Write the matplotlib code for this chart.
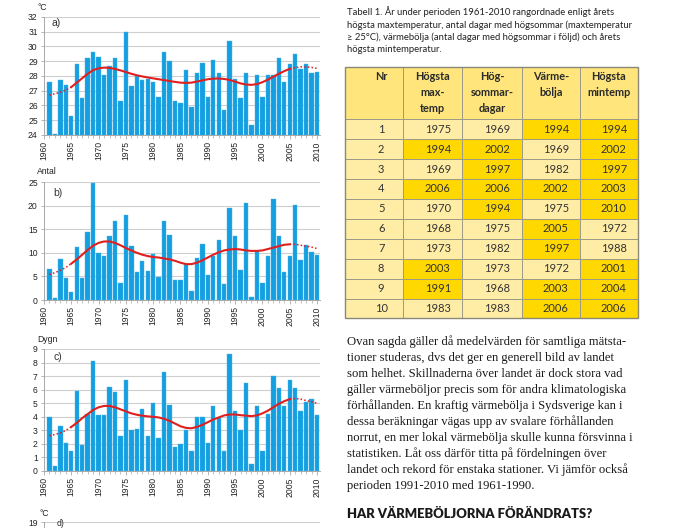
import matplotlib
matplotlib.use('Agg')
import matplotlib.pyplot as plt
from matplotlib.patches import Rectangle
import numpy as np

# ---------------- data ----------------
years = list(range(1961, 2011))

max_temp = [27.6, 24.05, 27.7, 27.4, 25.3, 28.8, 26.5, 29.2, 29.6, 29.3,
            28.1, 28.7, 29.2, 26.3, 31.0, 27.3, 28.0, 27.7, 27.8, 27.6,
            26.6, 29.6, 29.0, 26.3, 26.2, 28.4, 25.9, 28.2, 28.9, 26.6,
            29.1, 28.2, 25.7, 30.4, 27.8, 26.5, 28.2, 24.7, 28.1, 26.6,
            28.1, 28.1, 29.2, 27.6, 28.8, 29.5, 28.5, 28.8, 28.2, 28.3]

summer_days = [6.6, 0.5, 8.7, 4.7, 1.8, 11.3, 4.7, 14.5, 24.7, 10.0,
               9.4, 13.5, 16.7, 3.6, 18.0, 11.5, 6.0, 8.2, 6.1, 9.7,
               4.9, 16.8, 13.7, 4.2, 4.2, 7.6, 1.9, 8.8, 11.8, 5.4,
               9.3, 12.8, 3.3, 19.5, 13.5, 6.4, 20.5, 0.6, 10.4, 3.5,
               9.3, 21.4, 13.6, 6.0, 9.4, 20.2, 8.5, 11.6, 10.2, 9.5]

heatwave_days = [4.0, 0.4, 3.3, 2.1, 1.5, 5.9, 1.9, 4.2, 8.1, 4.1,
                 4.1, 6.2, 5.8, 2.6, 6.7, 3.0, 3.1, 4.6, 2.6, 5.0,
                 2.4, 7.3, 4.9, 1.8, 2.0, 3.0, 1.5, 4.0, 4.0, 2.1,
                 4.8, 3.9, 1.5, 8.6, 4.4, 3.0, 6.5, 0.5, 4.8, 1.5,
                 4.2, 7.0, 6.1, 4.8, 6.7, 6.1, 4.4, 5.1, 5.3, 4.1]

trend_max_temp = [26.70, 26.80, 26.90, 27.05, 27.25, 27.55, 27.85, 28.15, 28.40, 28.52,
                  28.57, 28.55, 28.48, 28.38, 28.27, 28.15, 28.05, 27.97, 27.90, 27.84,
                  27.78, 27.72, 27.66, 27.60, 27.55, 27.53, 27.55, 27.62, 27.70, 27.78,
                  27.82, 27.83, 27.80, 27.73, 27.62, 27.50, 27.42, 27.40, 27.45, 27.58,
                  27.75, 27.95, 28.15, 28.33, 28.48, 28.57, 28.62, 28.62, 28.58, 28.52]

trend_summer = [5.4, 5.8, 6.3, 6.9, 7.7, 8.6, 9.6, 10.6, 11.5, 12.1,
                12.4, 12.4, 12.1, 11.6, 11.0, 10.5, 10.0, 9.6, 9.3, 9.1,
                9.0, 8.8, 8.6, 8.3, 7.9, 7.6, 7.6, 7.9, 8.4, 9.0,
                9.6, 10.1, 10.5, 10.7, 10.8, 10.7, 10.5, 10.4, 10.4, 10.5,
                10.8, 11.1, 11.4, 11.7, 11.8, 11.8, 11.6, 11.4, 11.2, 10.9]

trend_heatwave = [2.6, 2.7, 2.8, 3.0, 3.25, 3.55, 3.9, 4.2, 4.5, 4.7,
                  4.8, 4.8, 4.7, 4.55, 4.4, 4.25, 4.15, 4.08, 4.03, 4.0,
                  3.95, 3.85, 3.7, 3.5, 3.3, 3.18, 3.15, 3.25, 3.4, 3.6,
                  3.8, 3.95, 4.1, 4.17, 4.17, 4.12, 4.08, 4.05, 4.1, 4.25,
                  4.45, 4.7, 4.95, 5.15, 5.3, 5.35, 5.3, 5.2, 5.1, 5.0]

table_header = ["Nr", "Högsta\nmax-\ntemp", "Hög-\nsommar-\ndagar", "Värme-\nbölja", "Högsta\nmintemp"]
rank = list(range(1, 11))
rank_maxtemp = [1975, 1994, 1969, 2006, 1970, 1968, 1973, 2003, 1991, 1983]
rank_summer = [1969, 2002, 1997, 2006, 1994, 1975, 1982, 1973, 1968, 1983]
rank_heatwave = [1994, 1969, 1982, 2002, 1975, 2005, 1997, 1972, 2003, 2006]
rank_mintemp = [1994, 2002, 1997, 2003, 2010, 1972, 1988, 2001, 2004, 2006]

caption_lines = [
    "Tabell 1. År under perioden 1961-2010 rangordnade enligt årets",
    "högsta maxtemperatur, antal dagar med högsommar (maxtemperatur",
    "≥ 25°C), värmebölja (antal dagar med högsommar i följd) och årets",
    "högsta mintemperatur.",
]
body_lines = [
    "Ovan sagda gäller då medelvärden för samtliga mätsta-",
    "tioner studeras, dvs det ger en generell bild av landet",
    "som helhet. Skillnaderna över landet är dock stora vad",
    "gäller värmeböljor precis som för andra klimatologiska",
    "förhållanden. En kraftig värmebölja i Sydsverige kan i",
    "dessa beräkningar vägas upp av svalare förhållanden",
    "norrut, en mer lokal värmebölja skulle kunna försvinna i",
    "statistiken. Låt oss därför titta på fördelningen över",
    "landet och rekord för enstaka stationer. Vi jämför också",
    "perioden 1991-2010 med 1961-1990.",
]
heading = "HAR VÄRMEBÖLJORNA FÖRÄNDRATS?"

# ---------------- style ----------------
BLUE = '#149fe0'
RED = '#e0201e'
GRID = '#cfcfcf'
AXC = '#a8a8a8'
W, H = 700, 528
TICKFONT = 'Liberation Sans'

fig = plt.figure(figsize=(W / 100, H / 100), dpi=100)


def px_axes(left, top, right, bottom):
    return fig.add_axes([left / W, 1 - bottom / H, (right - left) / W, (bottom - top) / H])


def panel(ax, vals, trend, ymin, ymax, step, unit, label, unit_xy, label_xy):
    ax.bar(years, vals, width=0.8, color=BLUE, edgecolor='#4fb6ea', linewidth=0.3, zorder=2)
    dot = (0, (1, 1.4))
    ax.plot(years[:5], trend[:5], color=RED, lw=1.1, ls=dot, zorder=3)
    ax.plot(years[4:45], trend[4:45], color=RED, lw=1.5, zorder=3)
    ax.plot(years[44:], trend[44:], color=RED, lw=1.1, ls=dot, zorder=3)
    ax.set_xlim(1960, 2010.55)
    ax.set_ylim(ymin, ymax)
    ticks = np.arange(ymin, ymax + 0.001, step)
    ax.set_yticks(ticks)
    ax.set_yticklabels([f"{int(v)}" for v in ticks],
                       fontsize=6.2, family=TICKFONT, color='#222222')
    ax.set_xticks(range(1960, 2011, 5))
    ax.set_xticklabels([str(y) for y in range(1960, 2011, 5)], rotation=90,
                       fontsize=6.2, family=TICKFONT, color='#222222')
    ax.set_xticks(range(1960, 2011), minor=True)
    ax.tick_params(axis='x', which='major', length=3, width=0.6, color=AXC, pad=1.5)
    ax.tick_params(axis='x', which='minor', length=2, width=0.5, color=AXC)
    ax.tick_params(axis='y', length=2.5, width=0.6, color=AXC, pad=2)
    ax.yaxis.grid(True, color=GRID, lw=0.8)
    ax.set_axisbelow(True)
    for s in ['top', 'right']:
        ax.spines[s].set_visible(False)
    for s in ['left', 'bottom']:
        ax.spines[s].set_color(AXC)
        ax.spines[s].set_linewidth(0.7)
    fig.text(unit_xy[0] / W, 1 - unit_xy[1] / H, unit, fontsize=6.2, family=TICKFONT,
             ha='left', va='center', color='#222222')
    fig.text(label_xy[0] / W, 1 - label_xy[1] / H, label, fontsize=7.5, family=TICKFONT,
             ha='left', va='center', color='#333333')


ax_a = px_axes(44, 17, 320, 135)
panel(ax_a, max_temp, trend_max_temp, 24, 32, 1, "°C", "a)", (37, 7), (52, 23))
ax_b = px_axes(44, 182, 320, 300)
panel(ax_b, summer_days, trend_summer, 0, 25, 5, "Antal", "b)", (37, 172), (53, 193))
ax_c = px_axes(44, 349, 320, 471)
panel(ax_c, heatwave_days, trend_heatwave, 0, 9, 1, "Dygn", "c)", (37, 340), (54, 357))

# partially visible panel d at the bottom edge
ax_d = px_axes(44, 522, 320, 640)
ax_d.set_xlim(1960, 2010.55)
ax_d.set_ylim(11, 19)
ax_d.set_yticks([19])
ax_d.set_yticklabels(["19"], fontsize=6.2, family=TICKFONT, color='#222222')
ax_d.set_xticks([])
ax_d.tick_params(axis='y', length=2.5, width=0.6, color=AXC, pad=2)
ax_d.yaxis.grid(True, color=GRID, lw=0.8)
for s in ['top', 'right', 'bottom']:
    ax_d.spines[s].set_visible(False)
ax_d.spines['left'].set_color(AXC)
ax_d.spines['left'].set_linewidth(0.7)
fig.text(39 / W, 1 - 513 / H, "°C", fontsize=6.2, family=TICKFONT, ha='left', va='center', color='#222222')
fig.text(57 / W, 1 - 524 / H, "d)", fontsize=6.2, family=TICKFONT, ha='left', va='center', color='#333333')

# ---------------- right side: caption, table, text ----------------
ov = fig.add_axes([0, 0, 1, 1])
ov.set_xlim(0, W)
ov.set_ylim(H, 0)
ov.axis('off')

SANS = 'Lato'
for i, line in enumerate(caption_lines):
    ov.text(347, 15 + i * 12.5, line, fontsize=6.8, family=SANS, color='#222222',
            ha='left', va='baseline')

col_x = [345, 403.3, 462.3, 521.7, 580, 637.7]
row_y = [67.3, 119.3, 139.3, 159.3, 179, 199, 219, 239, 258.7, 278.7, 298.7, 318.3]
HEAD_C = '#ffe57c'
LIGHT_C = '#ffeda6'
STRONG_C = '#ffd800'
LINE_C = '#9c9a88'

columns = [rank, rank_maxtemp, rank_summer, rank_heatwave, rank_mintemp]
for j in range(5):
    ov.add_patch(Rectangle((col_x[j], row_y[0]), col_x[j + 1] - col_x[j], row_y[1] - row_y[0],
                           facecolor=HEAD_C, edgecolor=LINE_C, lw=0.7))
    cx = (col_x[j] + col_x[j + 1]) / 2 + (7 if j == 0 else 0)
    ov.text(cx, 71, table_header[j], fontsize=7.8, family=SANS, fontweight='bold',
            color='#2a2a2a', ha='center', va='top', linespacing=1.55)
for i in range(10):
    for j in range(5):
        val = columns[j][i]
        fc = STRONG_C if (j > 0 and val >= 1991) else LIGHT_C
        ov.add_patch(Rectangle((col_x[j], row_y[i + 1]), col_x[j + 1] - col_x[j],
                               row_y[i + 2] - row_y[i + 1], facecolor=fc, edgecolor=LINE_C, lw=0.7))
        cx = (col_x[j] + col_x[j + 1]) / 2 + (7 if j == 0 else 5)
        cy = (row_y[i + 1] + row_y[i + 2]) / 2
        ov.text(cx, cy, str(val), fontsize=8, family=SANS, color='#333333',
                ha='center', va='center')
ov.add_patch(Rectangle((col_x[0], row_y[0]), col_x[-1] - col_x[0], row_y[-1] - row_y[0],
                       facecolor='none', edgecolor='#8a8878', lw=1.0))

SERIF = 'Liberation Serif'
for i, line in enumerate(body_lines):
    ov.text(347, 345 + i * 16.0, line, fontsize=9.1, family=SERIF, color='#1a1a1a',
            ha='left', va='baseline')

ov.text(347, 518.5, heading, fontsize=9.4, family=SANS, fontweight='heavy',
        color='#1a1a1a', ha='left', va='baseline')

fig.savefig('out.png', dpi=100)
